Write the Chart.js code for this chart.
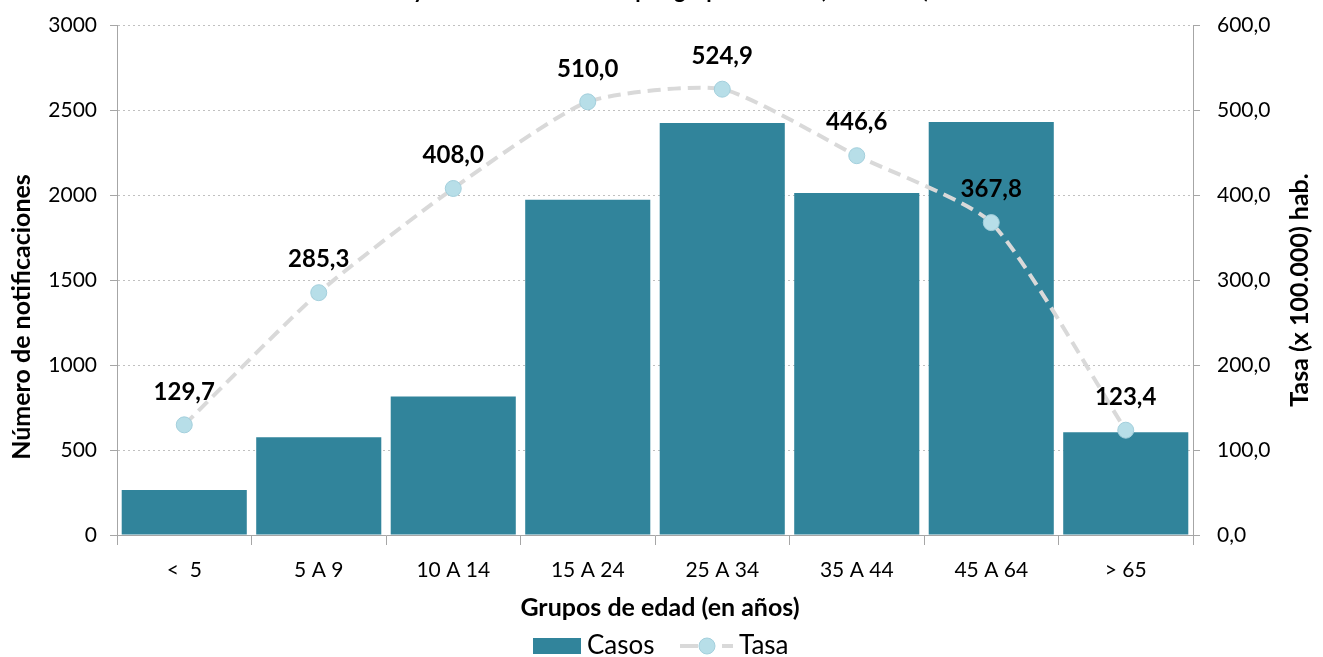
<!DOCTYPE html>
<html>
<head>
<meta charset="utf-8">
<script src="https://cdn.jsdelivr.net/npm/chart.js@4.4.1/dist/chart.umd.min.js"></script>
<style>
html,body{margin:0;padding:0;background:#fff;}
#wrap{width:1323px;height:657px;position:relative;}
</style>
</head>
<body>
<div id="wrap"><canvas id="c" width="1323" height="657"></canvas></div>
<script>
const categories = ['<  5', '5 A 9', '10 A 14', '15 A 24', '25 A 34', '35 A 44', '45 A 64', '> 65'];
const casos = [265, 575, 816, 1973, 2425, 2014, 2431, 605];
const tasa = [129.7, 285.3, 408.0, 510.0, 524.9, 446.6, 367.8, 123.4];
const leftTicks = [0, 500, 1000, 1500, 2000, 2500, 3000];
const rightTicks = [0, 100, 200, 300, 400, 500, 600];
const titleText = 'Casos y tasas de notificación por grupo de edad (x 100.000)';
const leftTitle = 'Número de notificaciones';
const rightTitle = 'Tasa (x 100.000) hab.';
const xTitle = 'Grupos de edad (en años)';

const FONT = 'Lato, "Open Sans", sans-serif';
const BAR = '#31849b';
const PT_FILL = '#b7dee8';
const PT_BORDER = '#a3cfdc';
const LINE = '#d9d9d9';
const fmt = v => v.toFixed(1).replace('.', ',');

const extras = {
  id: 'extras',
  afterDatasetsDraw(chart) {
    const ctx = chart.ctx;
    const meta = chart.getDatasetMeta(1);
    ctx.save();
    ctx.fillStyle = '#000';
    ctx.font = 'bold 24px ' + FONT;
    ctx.textAlign = 'center';
    ctx.textBaseline = 'middle';
    meta.data.forEach((p, i) => {
      ctx.fillText(fmt(tasa[i]), p.x, p.y - 33);
    });
    ctx.restore();
  },
  afterDraw(chart) {
    const ctx = chart.ctx;
    ctx.save();
    ctx.fillStyle = '#000';
    // cut-off title
    ctx.font = 'bold 22px ' + FONT;
    ctx.textAlign = 'center';
    ctx.textBaseline = 'alphabetic';
    ctx.fillText(titleText, 640, -2);
    // x title
    ctx.font = 'bold 25px ' + FONT;
    ctx.textBaseline = 'middle';
    ctx.fillText(xTitle, 660, 608);
    // left title
    ctx.save();
    ctx.translate(22, 317);
    ctx.rotate(-Math.PI / 2);
    ctx.fillText(leftTitle, 0, 0);
    ctx.restore();
    // right title
    ctx.save();
    ctx.translate(1300, 290);
    ctx.rotate(-Math.PI / 2);
    ctx.fillText(rightTitle, 0, 0);
    ctx.restore();
    // legend
    ctx.fillStyle = BAR;
    ctx.fillRect(533, 638, 48, 16);
    ctx.fillStyle = '#000';
    ctx.font = '26px ' + FONT;
    ctx.textAlign = 'left';
    ctx.fillText('Casos', 587, 646);
    ctx.strokeStyle = LINE;
    ctx.lineWidth = 4;
    ctx.beginPath(); ctx.moveTo(680, 646); ctx.lineTo(698, 646); ctx.stroke();
    ctx.beginPath(); ctx.moveTo(722, 646); ctx.lineTo(733, 646); ctx.stroke();
    ctx.beginPath(); ctx.arc(707, 646, 8, 0, Math.PI * 2);
    ctx.fillStyle = PT_FILL; ctx.fill();
    ctx.strokeStyle = PT_BORDER; ctx.lineWidth = 1; ctx.stroke();
    ctx.fillStyle = '#000';
    ctx.fillText('Tasa', 739, 646);
    ctx.restore();
  }
};

new Chart(document.getElementById('c'), {
  type: 'bar',
  data: {
    labels: categories,
    datasets: [
      {
        type: 'bar', label: 'Casos', data: casos, yAxisID: 'y',
        backgroundColor: BAR, borderWidth: 0,
        categoryPercentage: 1.0, barPercentage: 0.93, order: 1
      },
      {
        type: 'line', label: 'Tasa', data: tasa, yAxisID: 'y1',
        borderColor: LINE, borderWidth: 4, borderDash: [13, 7],
        tension: 0.2, fill: false,
        pointRadius: 8, pointBackgroundColor: PT_FILL, pointBorderColor: PT_BORDER,
        pointBorderWidth: 1, order: 0
      }
    ]
  },
  options: {
    responsive: false,
    animation: false,
    layout: { padding: { top: 24, left: 0, right: 0, bottom: 0 } },
    plugins: { legend: { display: false }, tooltip: { enabled: false }, title: { display: false } },
    scales: {
      x: {
        offset: true,
        grid: { offset: true, drawOnChartArea: false, tickLength: 10, color: '#a6a6a6', tickColor: '#a6a6a6' },
        border: { color: '#a6a6a6', width: 1 },
        ticks: { color: '#000', font: { family: FONT, size: 21 }, padding: 13, maxRotation: 0, autoSkip: false },
        afterFit: s => { s.height = 122; }
      },
      y: {
        position: 'left', min: 0, max: 3000,
        afterBuildTicks: s => { s.ticks = leftTicks.map(v => ({ value: v })); },
        grid: { color: '#c0c0c0', tickLength: 7, tickColor: '#a6a6a6', tickBorderDash: [] },
        border: { color: '#a6a6a6', width: 1, dash: [2, 3] },
        ticks: { color: '#000', font: { family: FONT, size: 21, lineHeight: 0.8 }, padding: 13, callback: v => String(v) },
        afterFit: s => { s.width = 117; }
      },
      y1: {
        position: 'right', min: 0, max: 600,
        afterBuildTicks: s => { s.ticks = rightTicks.map(v => ({ value: v })); },
        grid: { drawOnChartArea: false, tickLength: 7, color: '#a6a6a6' },
        border: { color: '#a6a6a6', width: 1 },
        ticks: { color: '#000', font: { family: FONT, size: 21, lineHeight: 0.8 }, padding: 17, callback: v => fmt(v) },
        afterFit: s => { s.width = 130; }
      }
    }
  },
  plugins: [extras]
});
</script>
</body>
</html>
